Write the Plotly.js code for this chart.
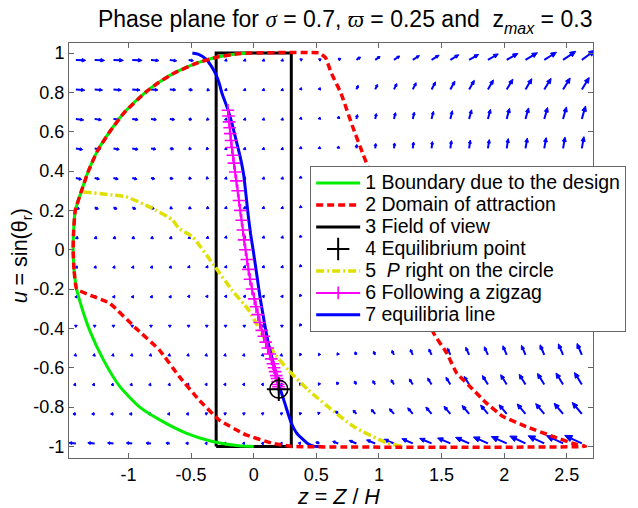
<!DOCTYPE html>
<html><head><meta charset="utf-8">
<script src="https://cdn.plot.ly/plotly-3.0.1.min.js"></script>
<style>html,body{margin:0;padding:0;background:#fff}#plot{width:638px;height:508px}</style>
</head><body><div id="plot"></div>
<script>
// ---------- data ----------
const xTickVals = [-1, -0.5, 0, 0.5, 1, 1.5, 2, 2.5];
const xTickText = ['-1', '-0.5', '0', '0.5', '1', '1.5', '2', '2.5'];
const yTickVals = [-1, -0.8, -0.6, -0.4, -0.2, 0, 0.2, 0.4, 0.6, 0.8, 1];
const yTickText = ['-1', '-0.8', '-0.6', '-0.4', '-0.2', '0', '0.2', '0.4', '0.6', '0.8', '1'];

// 1 Boundary due to the design
const boundaryZ = [-0.03, -0.14, -0.29, -0.45, -0.63, -0.76, -0.865, -1.03, -1.15, -1.25, -1.32, -1.375, -1.425, -1.438, -1.442, -1.435, -1.414, -1.37, -1.31, -1.2, -1.07, -0.91, -0.75, -0.54, -0.33, -0.12, 0];
const boundaryU = [1.0, 0.995, 0.98, 0.95, 0.9, 0.85, 0.8, 0.7, 0.6, 0.5, 0.4, 0.3, 0.2, 0.1, 0, -0.1, -0.2, -0.3, -0.41, -0.56, -0.695, -0.8, -0.865, -0.932, -0.975, -0.997, -1.0];

// 2 Domain of attraction
const domainZ = [-1.414, -1.435, -1.442, -1.438, -1.425, -1.375, -1.32, -1.25, -1.15, -1.03, -0.865, -0.76, -0.63, -0.45, -0.29, -0.14, -0.03, 0.526, 0.575, 0.618, 0.697, 0.79, 0.87, 0.922, 1.0, 1.1, 1.2, 1.3, 1.38, 1.436, 1.541, 1.62, 1.726, 1.858, 1.99, 2.175, 2.386, 2.55, 2.65, 0.3, 0.143, -0.068, -0.28, -0.438, -0.596, -0.754, -0.94, -1.15, -1.414];
const domainU = [-0.2, -0.1, 0, 0.1, 0.2, 0.3, 0.4, 0.5, 0.6, 0.7, 0.8, 0.85, 0.9, 0.95, 0.98, 0.995, 1.0, 1.0, 0.975, 0.9, 0.795, 0.625, 0.49, 0.405, 0.29, 0.15, 0.01, -0.14, -0.3, -0.424, -0.526, -0.627, -0.695, -0.78, -0.848, -0.899, -0.949, -0.985, -1.0, -1.0, -0.983, -0.94, -0.864, -0.763, -0.644, -0.509, -0.4, -0.272, -0.2];

// 3 Field of view
const fovZ = [-0.3, 0.3, 0.3, -0.3, -0.3];
const fovU = [-1, -1, 1, 1, -1];

// 4 Equilibrium point
const eqZ = [0.2];
const eqU = [-0.709];

// 5 P right on the circle
const circleZ = [-1.36, -1.124, -1.018, -0.834, -0.78, -0.649, -0.596, -0.49, -0.319, -0.174, -0.042, 0.05, 0.143, 0.275, 0.433, 0.591, 0.8, 1.066, 1.2];
const circleU = [0.294, 0.278, 0.269, 0.218, 0.2, 0.151, 0.108, 0.066, -0.078, -0.205, -0.306, -0.41, -0.509, -0.611, -0.712, -0.797, -0.9, -0.983, -1.0];

// 6 Following a zigzag
const zigZ = [-0.206, -0.202, -0.197, -0.192, -0.187, -0.181, -0.175, -0.167, -0.158, -0.148, -0.138, -0.128, -0.118, -0.107, -0.097, -0.087, -0.077, -0.066, -0.055, -0.043, -0.03, -0.014, 0.004, 0.018, 0.033, 0.048, 0.064, 0.08, 0.096, 0.112, 0.128, 0.141, 0.153, 0.162, 0.171, 0.18, 0.186, 0.191, 0.195, 0.198, 0.2];
const zigU = [0.709, 0.68, 0.65, 0.62, 0.59, 0.555, 0.52, 0.48, 0.44, 0.395, 0.35, 0.30, 0.25, 0.20, 0.15, 0.10, 0.05, 0.0, -0.05, -0.10, -0.15, -0.20, -0.25, -0.29, -0.33, -0.37, -0.41, -0.44, -0.47, -0.50, -0.53, -0.555, -0.58, -0.60, -0.62, -0.64, -0.655, -0.67, -0.685, -0.697, -0.709];

// 7 equilibria line
const eqLineZ = [-0.49, -0.44, -0.385, -0.34, -0.305, -0.275, -0.253, -0.21, -0.174, -0.14, -0.108, -0.08, -0.062, -0.045, -0.025, -0.005, 0.025, 0.05, 0.085, 0.116, 0.15, 0.182, 0.215, 0.248, 0.275, 0.3, 0.34, 0.38, 0.43, 0.486, 0.55];
const eqLineU = [1.0, 0.993, 0.971, 0.935, 0.895, 0.845, 0.794, 0.72, 0.642, 0.555, 0.472, 0.38, 0.28, 0.18, 0.08, 0.0, -0.13, -0.24, -0.37, -0.475, -0.56, -0.645, -0.715, -0.78, -0.835, -0.881, -0.93, -0.957, -0.985, -1.0, -1.0];

// vector field grid (arrow bases)
const quiverZ = [-1.42, -1.27, -1.12, -0.97, -0.82, -0.67, -0.52, -0.375, -0.225, -0.075, 0.075, 0.225, 0.375, 0.525, 0.675, 0.82, 0.97, 1.12, 1.27, 1.42, 1.57, 1.72, 1.87, 2.02, 2.17, 2.32, 2.47, 2.62];
const quiverU = [-0.985, -0.835, -0.685, -0.535, -0.385, -0.235, -0.085, 0.065, 0.215, 0.365, 0.515, 0.665, 0.815, 0.965];
// arrow lengths (px on the picture), rows bottom -> top, columns left -> right
const arrowLen = [
  [7, 7, 6, 6, 5, 4, 3, 2, 2, 2, 2, 2, 2.5, 4, 6, 8, 9.5, 11, 12, 13, 14, 15, 16, 17, 17.5, 18, 18.5, 19],
  [3, 3, 3, 3, 3, 2.5, 2.5, 2, 2, 2, 2, 2, 2, 2.5, 4, 5, 6, 7, 8, 9, 10, 11, 11.5, 12, 13, 13.5, 14, 15],
  [2.5, 2.5, 2.5, 2.5, 2.5, 2, 2, 2, 2, 2, 2, 2, 2, 2, 3, 4, 4.5, 5.5, 6.5, 7.5, 8.5, 9.5, 10.5, 11.5, 12, 13, 13.5, 14],
  [2, 2, 2, 2, 2, 2, 2, 2, 2, 2, 2, 2, 2, 2, 2.5, 3.5, 4, 5, 6, 6.5, 7.5, 8.5, 9, 10, 10.5, 11, 12, 12.5],
  [2, 2, 2, 2, 2, 2, 2, 2, 2, 2, 2, 2, 2, 2, 2.5, 3, 3.5, 4, 4.5, 5, 5.5, 6, 6.5, 7, 7.5, 8, 8.5, 9],
  [2.5, 2.5, 2.5, 2.5, 2.5, 2.5, 2, 2, 2, 2, 2, 2, 2, 2, 2.5, 3, 3.5, 4, 4.5, 5, 5.5, 6, 6.5, 7, 7.5, 8, 8.5, 9],
  [2.5, 2.5, 2.5, 2.5, 2.5, 2.5, 2, 2, 2, 2, 2, 2, 2, 2, 2.5, 3, 3.5, 4, 4.5, 5, 5.5, 6, 6.5, 7, 7.5, 8, 8.5, 9],
  [3, 3, 3, 3, 3, 3, 2.5, 2.5, 2, 2, 2, 2, 2, 2, 2.5, 3, 3.5, 4, 4.5, 5, 5.5, 6, 6.5, 7, 7.5, 8, 8.5, 9],
  [4, 4, 4, 4, 3.5, 3, 3, 2.5, 2, 2, 2, 2, 2, 2, 2.5, 3, 4, 4.5, 5, 6, 6.5, 7, 7.5, 8, 8.5, 9, 9.5, 10],
  [6, 5, 5, 5, 4, 3.5, 3, 2, 2, 2, 2, 2, 2, 2, 2.5, 3.5, 4.5, 5, 6, 6.5, 7.5, 8, 8.5, 9, 9.5, 10, 10.5, 11],
  [7, 6, 6, 6, 5, 4, 3, 2, 2, 2, 2, 2, 2, 2, 2.5, 4, 5, 5.5, 6.5, 7, 8, 8.5, 9, 10, 10.5, 11, 11.5, 12],
  [8, 7, 6.5, 6, 5.5, 5, 3.5, 2.5, 2, 2, 2, 2, 2, 2, 3, 4.5, 5.5, 6.5, 7, 8, 8.5, 9.5, 10, 11, 11.5, 12, 12.5, 13.5],
  [9, 8, 8, 8, 7, 6, 4, 3, 2, 2, 2, 2, 2, 2, 3, 4.5, 5.5, 6.5, 7.5, 8.5, 9.5, 10.5, 11, 12, 12.5, 13, 13.5, 14],
  [10, 10, 10, 10, 8, 7, 5, 3, 2, 2, 2, 2, 2, 2, 3, 5, 6, 7, 8, 9, 10, 11, 12, 13, 14, 14.5, 15.5, 16.5]
];
// arrow directions (degrees, 0 = +z, 90 = +u), rows bottom -> top
const arrowAng = [
  [175, 175, 175, 175, 175, 175, 175, 175, 180, 180, 180, 180, 165, 160, 160, 158, 158, 158, 157, 157, 157, 156, 156, 156, 155, 155, 155, 155],
  [180, 180, 180, 180, 180, 180, 180, 150, 150, 150, 150, 150, 140, 135, 132, 132, 131, 131, 130, 130, 130, 130, 130, 130, 130, 130, 130, 130],
  [190, 190, 190, 190, 190, 190, 190, 180, 180, 180, 180, 180, 130, 125, 124, 123, 123, 122, 122, 122, 122, 122, 122, 122, 122, 122, 122, 122],
  [200, 200, 200, 200, 200, 200, 200, 200, 200, 200, 200, 200, 120, 116, 115, 115, 115, 115, 114, 114, 114, 114, 114, 113, 113, 113, 113, 113],
  [270, 270, 270, 270, 270, 270, 270, 270, 270, 270, 270, 270, 115, 112, 112, 112, 112, 112, 112, 112, 112, 112, 112, 112, 112, 112, 112, 112],
  [300, 300, 300, 300, 300, 300, 300, 300, 300, 300, 300, 300, 110, 108, 108, 108, 108, 108, 108, 108, 108, 108, 108, 108, 108, 108, 108, 108],
  [310, 310, 310, 310, 310, 310, 310, 310, 310, 310, 310, 310, 105, 104, 104, 104, 104, 104, 104, 104, 104, 104, 104, 104, 104, 104, 104, 104],
  [320, 320, 320, 320, 320, 320, 320, 320, 320, 320, 320, 320, 100, 100, 100, 100, 100, 100, 100, 100, 100, 100, 100, 100, 100, 100, 100, 100],
  [335, 335, 335, 335, 335, 335, 335, 335, 320, 320, 320, 320, 95, 95, 95, 95, 95, 95, 95, 95, 95, 95, 95, 95, 95, 95, 95, 95],
  [345, 345, 345, 345, 345, 345, 345, 340, 320, 320, 320, 320, 92, 91, 90, 90, 90, 90, 90, 90, 90, 90, 90, 90, 90, 90, 90, 90],
  [350, 350, 350, 350, 350, 350, 350, 340, 320, 320, 320, 320, 85, 85, 85, 85, 84, 84, 83, 83, 82, 82, 81, 81, 80, 80, 80, 80],
  [352, 352, 352, 352, 352, 352, 350, 340, 320, 320, 320, 320, 80, 80, 79, 78, 78, 77, 77, 76, 76, 75, 75, 75, 74, 74, 74, 74],
  [355, 355, 355, 355, 355, 355, 350, 340, 320, 320, 320, 320, 70, 68, 67, 66, 65, 64, 63, 62, 61, 60, 60, 59, 59, 58, 58, 58],
  [357, 357, 357, 357, 355, 352, 350, 340, 320, 320, 320, 320, 30, 30, 32, 35, 35, 34, 33, 32, 31, 30, 30, 30, 31, 32, 34, 36]
];

// ---------- layout geometry ----------
const W = 638, H = 508;
const M = {l: 69, r: 41, t: 43, b: 50};
const xRange = [-1.475, 2.709];
const yRange = [-1.059, 1.051];
const plotW = W - M.l - M.r, plotH = H - M.t - M.b;
const pxZ = plotW / (xRange[1] - xRange[0]);
const pxU = plotH / (yRange[1] - yRange[0]);

// build quiver arrows (shafts + heads) from the field arrays
const shaftX = [], shaftY = [], headX = [], headY = [];
for (let r = 0; r < quiverU.length; r++) {
  for (let c = 0; c < quiverZ.length; c++) {
    const L = arrowLen[r][c];
    const a = arrowAng[r][c] * Math.PI / 180;
    const ex = Math.cos(a), ey = Math.sin(a);
    const z0 = quiverZ[c], u0 = quiverU[r];
    const hl = Math.max(2.2, 0.38 * L);
    const hw = Math.max(1.4, 0.45 * hl);
    const sL = Math.max(0.6, L - hl * 0.7);
    shaftX.push(z0, z0 + ex * sL / pxZ, null);
    shaftY.push(u0, u0 + ey * sL / pxU, null);
    const tx = L * ex, ty = L * ey;
    const bx = (L - hl) * ex, by = (L - hl) * ey;
    const px = -ey * hw, py = ex * hw;
    headX.push(z0 + tx / pxZ, z0 + (bx + px) / pxZ, z0 + (bx - px) / pxZ, z0 + tx / pxZ, null);
    headY.push(u0 + ty / pxU, u0 + (by + py) / pxU, u0 + (by - py) / pxU, u0 + ty / pxU, null);
  }
}

const FONT = 'Liberation Sans, Arial, Helvetica, sans-serif';
const blue = '#0000ff';
const big = s => '<span style="font-size:19.5px">' + s + '</span>';
const serif = s => '<span style="font-family:Liberation Serif;font-size:23px"><i>' + s + '</i></span>';
const lowered = (s, size, shift) => '<span style="font-size:' + size + 'px;baseline-shift:-' + shift + 'px">' + s + '</span>';

const traces = [
  {x: shaftX, y: shaftY, mode: 'lines', line: {color: blue, width: 2}, showlegend: false, hoverinfo: 'skip'},
  {x: headX, y: headY, mode: 'lines', fill: 'toself', fillcolor: blue, line: {color: blue, width: 1}, showlegend: false, hoverinfo: 'skip'},
  {x: fovZ, y: fovU, mode: 'lines', name: big('3 Field of view'), legendrank: 3, line: {color: '#000000', width: 3}},
  {x: boundaryZ, y: boundaryU, mode: 'lines', name: big('1 Boundary due to the design'), legendrank: 1, line: {color: '#00ee00', width: 3, shape: 'spline', smoothing: 0.6}},
  {x: circleZ, y: circleU, mode: 'lines', name: big('5\u00a0\u00a0<i>P</i> right on the circle'), legendrank: 5, line: {color: '#e0e000', width: 3.5, dash: '8px,3px,2px,3px', shape: 'spline', smoothing: 0.6}},
  {x: eqLineZ, y: eqLineU, mode: 'lines', name: big('7 equilibria line'), legendrank: 7, line: {color: blue, width: 3, shape: 'spline', smoothing: 0.5}},
  {x: zigZ, y: zigU, mode: 'lines+markers', name: big('6 Following a zigzag'), legendrank: 6, line: {color: '#ff00ff', width: 2}, marker: {symbol: 'cross-thin', size: 9, color: '#ff00ff', line: {color: '#ff00ff', width: 1.6}}},
  {x: domainZ, y: domainU, mode: 'lines', name: big('2 Domain of attraction'), legendrank: 2, line: {color: '#ff0000', width: 3.5, dash: '7px,4px', shape: 'spline', smoothing: 0.3}},
  {x: eqZ, y: eqU, mode: 'markers', name: big('4 Equilibrium point'), legendrank: 4, marker: {symbol: 'cross-thin', size: 17, color: '#000', line: {color: '#000', width: 2}}},
  {x: eqZ, y: eqU, mode: 'markers', showlegend: false, marker: {symbol: 'circle-open', size: 18, color: '#000', line: {color: '#000', width: 1.6}}}
];

const axisCommon = {
  showline: true, linecolor: '#666', linewidth: 1, mirror: 'ticks',
  ticks: 'inside', ticklen: 5, tickwidth: 1, tickcolor: '#666',
  showgrid: false, zeroline: false, tickmode: 'array',
  tickfont: {family: FONT, size: 18, color: '#000'}
};

const layout = {
  width: W, height: H,
  margin: M,
  paper_bgcolor: '#fff', plot_bgcolor: '#fff',
  font: {family: FONT, color: '#000'},
  title: {
    text: 'Phase plane for ' + serif('\u03c3') + ' = 0.7, ' + serif('\u03d6') + ' = 0.25 and\u00a0\u00a0z' + lowered('<i>max</i>', 16, 7) + ' = 0.3',
    font: {family: FONT, size: 23, color: '#000'},
    x: 0.541, xref: 'container', xanchor: 'center',
    y: 0.962, yref: 'container', yanchor: 'middle'
  },
  xaxis: Object.assign({}, axisCommon, {range: xRange, tickvals: xTickVals, ticktext: xTickText}),
  yaxis: Object.assign({}, axisCommon, {range: yRange, tickvals: yTickVals, ticktext: yTickText}),
  showlegend: true,
  legend: {
    x: (312 - M.l) / plotW, y: (H - M.b - 166) / plotH, xanchor: 'left', yanchor: 'top',
    bgcolor: '#fff', bordercolor: '#666', borderwidth: 1,
    font: {family: FONT, size: 14.6, color: '#000'},
    traceorder: 'normal', itemwidth: 44, tracegroupgap: 0
  },
  annotations: [
    {text: '<i>z</i> = <i>Z</i> / <i>H</i>', xref: 'paper', yref: 'paper', x: (341 - M.l) / plotW, y: (H - M.b - 496.5) / plotH,
     xanchor: 'center', yanchor: 'middle', showarrow: false, font: {family: FONT, size: 21.5, color: '#000'}},
    {text: '<i>u</i> = sin(\u03b8' + lowered('r', 15, 5) + ')', xref: 'paper', yref: 'paper', x: (21 - M.l) / plotW, y: (H - M.b - 256) / plotH,
     xanchor: 'center', yanchor: 'middle', textangle: -90, showarrow: false, font: {family: FONT, size: 21.5, color: '#000'}}
  ]
};

Plotly.newPlot('plot', traces, layout, {displayModeBar: false, staticPlot: true});
</script>
</body></html>
